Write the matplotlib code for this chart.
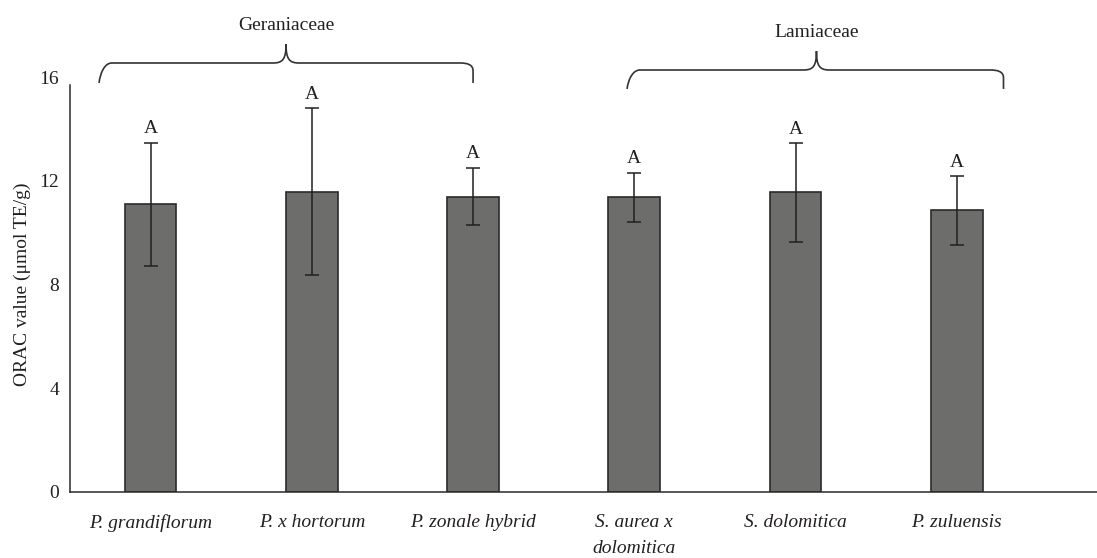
import matplotlib.pyplot as plt
import numpy as np
from matplotlib.path import Path
from matplotlib.patches import PathPatch

plt.rcParams['font.family'] = ['Liberation Serif', 'DejaVu Serif']

species = ['P. grandiflorum', 'P. x hortorum', 'P. zonale hybrid',
           'S. aurea x\ndolomitica', 'S. dolomitica', 'P. zuluensis']
orac = [11.1, 11.58, 11.39, 11.36, 11.55, 10.86]
orac_err = [2.37, 3.22, 1.1, 0.95, 1.9, 1.32]
letters = ['A', 'A', 'A', 'A', 'A', 'A']
families = ['Geraniaceae', 'Lamiaceae']

ink = '#231f20'
fs = 14

fig = plt.figure(figsize=(10.97, 5.58), dpi=100)
ax = fig.add_axes([70/1097, 66/558, 1 - 70/1097, 415/558])

x = np.arange(len(species))
ax.bar(x, orac, 0.32, color='#6d6d6b', edgecolor='#2a2a2a', linewidth=1.2,
       zorder=2)
ax.errorbar(x, orac, yerr=orac_err, fmt='none', ecolor=ink, elinewidth=1.1,
            capsize=5, capthick=1.1, zorder=3)

for xi, v, e, s in zip(x, orac, orac_err, letters):
    ax.annotate(s, (xi, v + e), xytext=(0, 4), textcoords='offset points',
                ha='center', va='bottom', fontsize=fs, color=ink)

ax.set_xlim(-0.5, 5.87)
ax.set_ylim(0, 16)
ax.set_yticks([0, 4, 8, 12, 16])
ax.set_xticks(x)
ax.set_xticklabels(species, fontstyle='italic', fontsize=fs, color=ink,
                   linespacing=1.65, va='top')
ax.tick_params(axis='both', length=0, labelsize=fs, colors=ink)
ax.tick_params(axis='x', pad=16)
ax.tick_params(axis='y', pad=8)
ax.set_ylabel('ORAC value (μmol TE/g)', fontsize=fs, color=ink, labelpad=6)

for side in ['top', 'right']:
    ax.spines[side].set_visible(False)
for side in ['left', 'bottom']:
    ax.spines[side].set_color('#2a2a2a')
    ax.spines[side].set_linewidth(1.1)
ax.spines['left'].set_bounds(0, 15.7)


def brace(x0, x1, xm, y_end, y_line, y_tip, label):
    r = 0.04
    verts = [(x0, y_end), (x0 + 0.01, y_line - 0.3), (x0 + r, y_line), (x0 + 2*r, y_line),
             (xm - 0.08, y_line),
             (xm - 0.02, y_line), (xm, y_line + 0.15), (xm, y_tip),
             (xm, y_line + 0.15), (xm + 0.02, y_line), (xm + 0.08, y_line),
             (x1 - 2*r, y_line),
             (x1 - r, y_line), (x1, y_line - 0.05), (x1, y_line - 0.3),
             (x1, y_end)]
    codes = [Path.MOVETO, Path.CURVE4, Path.CURVE4, Path.CURVE4,
             Path.LINETO,
             Path.CURVE4, Path.CURVE4, Path.CURVE4,
             Path.CURVE4, Path.CURVE4, Path.CURVE4,
             Path.LINETO,
             Path.CURVE4, Path.CURVE4, Path.CURVE4,
             Path.LINETO]
    ax.add_patch(PathPatch(Path(verts, codes), fill=False, edgecolor='#333333',
                           linewidth=1.2, clip_on=False))
    ax.text(xm, y_tip + 0.4, label, ha='center', va='bottom', fontsize=fs,
            color=ink, clip_on=False)


brace(-0.32, 2.0, 0.84, 15.77, 16.54, 17.27, families[0])
brace(2.955, 5.29, 4.13, 15.54, 16.27, 17.0, families[1])

fig.savefig('out.png', dpi=100)
